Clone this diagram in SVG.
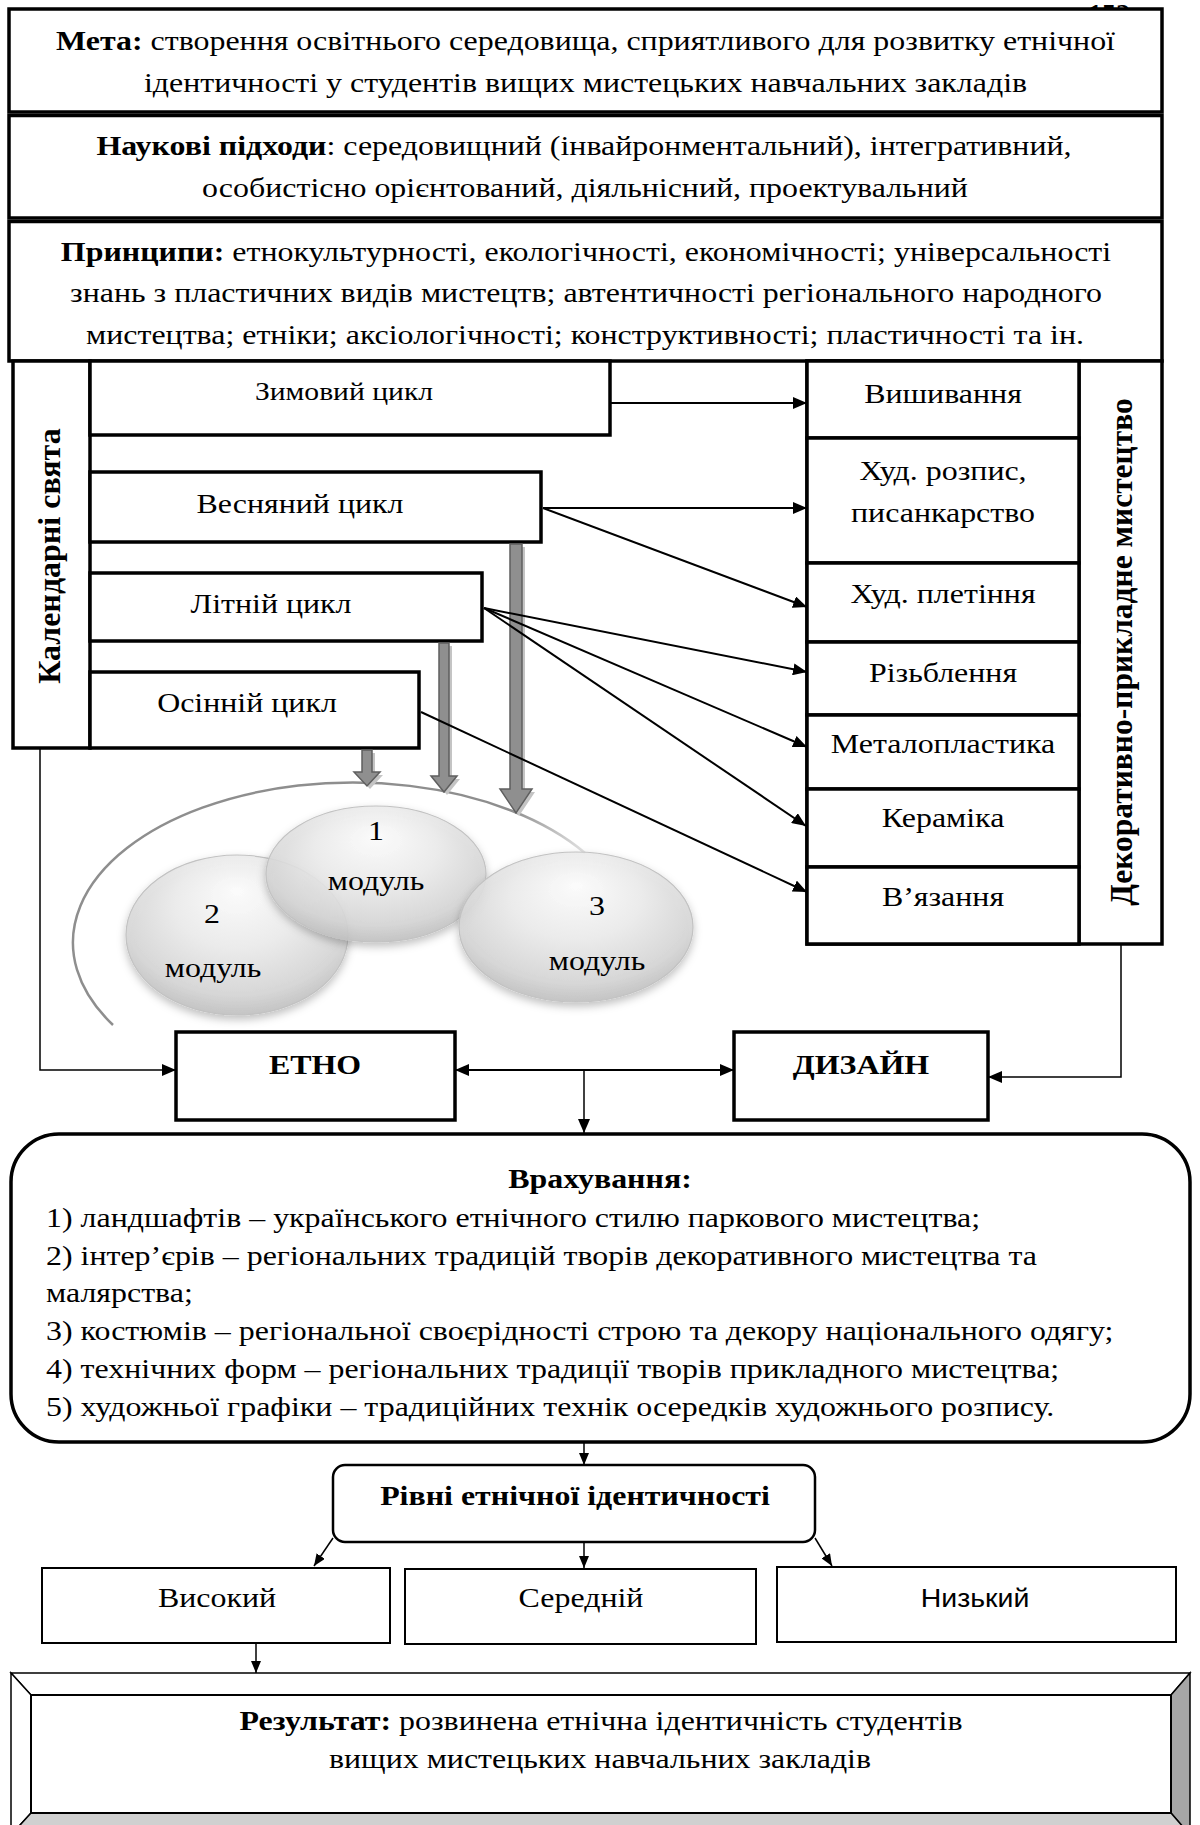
<svg xmlns="http://www.w3.org/2000/svg" width="1200" height="1825" viewBox="0 0 1200 1825">
<style>
.t{font-family:"Liberation Serif","Times New Roman",serif;font-size:28px;fill:#000}
.s{font-size:26px}
.b{font-weight:bold}
.sans{font-family:"Liberation Sans",Arial,sans-serif;font-size:25px;fill:#000}
.box{fill:#fff;stroke:#000;stroke-width:3.5}
.thin{fill:#fff;stroke:#000;stroke-width:2}
.c{fill:none;stroke:#000;stroke-width:2}
.g{fill:#8f8f8f;stroke:#5f5f5f;stroke-width:1.5}
.gs{fill:#c4c4c4}
.sph{fill:url(#sph);stroke:#c2c2c2;stroke-width:1.2;fill-opacity:0.88;filter:url(#shd)}
</style>
<defs>
<marker id="ah" viewBox="0 0 14 12" refX="14" refY="6" markerWidth="14" markerHeight="12" orient="auto-start-reverse" markerUnits="userSpaceOnUse"><path d="M0,0L14,6L0,12z" fill="#000"/></marker>
<marker id="ahs" viewBox="0 0 12 10" refX="12" refY="5" markerWidth="12" markerHeight="10" orient="auto-start-reverse" markerUnits="userSpaceOnUse"><path d="M0,0L12,5L0,10z" fill="#000"/></marker>
<radialGradient id="sph" cx="50%" cy="40%" r="62%" fx="50%" fy="22%">
<stop offset="0" stop-color="#ffffff"/>
<stop offset="0.45" stop-color="#ededed"/>
<stop offset="0.82" stop-color="#d6d6d6"/>
<stop offset="1" stop-color="#bdbdbd"/>
</radialGradient>
<linearGradient id="arcg" gradientUnits="userSpaceOnUse" x1="70" y1="0" x2="590" y2="0">
<stop offset="0" stop-color="#8e8e8e"/>
<stop offset="0.85" stop-color="#8e8e8e"/>
<stop offset="1" stop-color="#8e8e8e" stop-opacity="0.2"/>
</linearGradient>
<filter id="shd" x="-20%" y="-20%" width="140%" height="150%"><feDropShadow dx="0" dy="4" stdDeviation="4" flood-color="#000" flood-opacity="0.28"/></filter>
</defs>
<rect width="1200" height="1825" fill="#fff"/>

<text class="t b" x="1088" y="23">152</text>

<g id="meta">
<rect class="box" x="9" y="9" width="1153" height="103"/>
<text class="t" transform="translate(585.5 50) scale(1.14 1)" text-anchor="middle"><tspan class="b">Мета:</tspan> створення освітнього середовища, сприятливого для розвитку етнічної</text>
<text class="t" transform="translate(585.5 92) scale(1.14 1)" text-anchor="middle">ідентичності у студентів вищих мистецьких навчальних закладів</text>
</g>
<g id="pidkhody">
<rect class="box" x="9" y="115.5" width="1153" height="102.5"/>
<text class="t" transform="translate(584 155) scale(1.14 1)" text-anchor="middle"><tspan class="b">Наукові підходи</tspan>: середовищний (інвайронментальний), інтегративний,</text>
<text class="t" transform="translate(585 197) scale(1.14 1)" text-anchor="middle">особистісно орієнтований, діяльнісний, проектувальний</text>
</g>
<g id="pryntsypy">
<rect class="box" x="9" y="221.5" width="1153" height="139.5"/>
<text class="t" transform="translate(586 261) scale(1.14 1)" text-anchor="middle"><tspan class="b">Принципи:</tspan> етнокультурності, екологічності, економічності; універсальності</text>
<text class="t" transform="translate(586 302) scale(1.14 1)" text-anchor="middle">знань з пластичних видів мистецтв; автентичності регіонального народного</text>
<text class="t" transform="translate(585 344) scale(1.14 1)" text-anchor="middle">мистецтва; етніки; аксіологічності; конструктивності; пластичності та ін.</text>
</g>

<g id="kalendarni">
<rect class="box" x="13" y="361" width="77" height="387"/>
<text class="t b" style="font-size:32px" transform="translate(60 556) rotate(-90)" text-anchor="middle">Календарні свята</text>
</g>
<g id="zymovyi">
<rect class="box" x="90" y="361" width="520" height="74"/>
<text class="t s" transform="translate(344 400) scale(1.14 1)" text-anchor="middle">Зимовий цикл</text>
</g>
<g id="vesnianyi">
<rect class="box" x="90" y="472" width="451" height="70"/>
<text class="t" transform="translate(300 513) scale(1.14 1)" text-anchor="middle">Весняний цикл</text>
</g>
<g id="litnii">
<rect class="box" x="90" y="573" width="392" height="68"/>
<text class="t" transform="translate(271 613) scale(1.14 1)" text-anchor="middle">Літній цикл</text>
</g>
<g id="osinnii">
<rect class="box" x="90" y="672" width="329" height="76"/>
<text class="t" transform="translate(247 712) scale(1.14 1)" text-anchor="middle">Осінній цикл</text>
</g>

<g id="dekor">
<rect class="box" x="807" y="361" width="355" height="583"/>
<line x1="1079" y1="361" x2="1079" y2="944" stroke="#000" stroke-width="3.5"/>
<text class="t b" style="font-size:31.5px" transform="translate(1132 652) rotate(-90)" text-anchor="middle">Декоративно-прикладне мистецтво</text>
</g>
<g id="vyshyvannia">
<rect class="box" x="807" y="361" width="272" height="77"/>
<text class="t" transform="translate(943 403) scale(1.14 1)" text-anchor="middle">Вишивання</text>
</g>
<g id="rozpys">
<rect class="box" x="807" y="438" width="272" height="125"/>
<text class="t" transform="translate(943 480) scale(1.14 1)" text-anchor="middle">Худ. розпис,</text>
<text class="t" transform="translate(943 522) scale(1.14 1)" text-anchor="middle">писанкарство</text>
</g>
<g id="pletinnia">
<rect class="box" x="807" y="563" width="272" height="79"/>
<text class="t" transform="translate(943 603) scale(1.14 1)" text-anchor="middle">Худ. плетіння</text>
</g>
<g id="rizblennia">
<rect class="box" x="807" y="642" width="272" height="73"/>
<text class="t" transform="translate(943 682) scale(1.14 1)" text-anchor="middle">Різьблення</text>
</g>
<g id="metaloplastyka">
<rect class="box" x="807" y="715" width="272" height="74"/>
<text class="t" transform="translate(943 753) scale(1.14 1)" text-anchor="middle">Металопластика</text>
</g>
<g id="keramika">
<rect class="box" x="807" y="789" width="272" height="78"/>
<text class="t" transform="translate(943 827) scale(1.14 1)" text-anchor="middle">Кераміка</text>
</g>
<g id="viazannia">
<rect class="box" x="807" y="867" width="272" height="77"/>
<text class="t" transform="translate(943 906) scale(1.14 1)" text-anchor="middle">В’язання</text>
</g>

<g id="moduli">
<path d="M113,1025 A280,160 0 0 1 585,853" fill="none" stroke="url(#arcg)" stroke-width="2.5"/>
<ellipse class="sph" cx="237" cy="935" rx="111" ry="80"/>
<ellipse class="sph" cx="376" cy="874" rx="110" ry="68"/>
<ellipse class="sph" cx="576" cy="927" rx="117" ry="75"/>
<text class="t" transform="translate(376 840) scale(1.14 1)" text-anchor="middle">1</text>
<text class="t" transform="translate(376 890) scale(1.14 1)" text-anchor="middle">модуль</text>
<text class="t" transform="translate(212 923) scale(1.14 1)" text-anchor="middle">2</text>
<text class="t" transform="translate(213 977) scale(1.14 1)" text-anchor="middle">модуль</text>
<text class="t" transform="translate(597 915) scale(1.14 1)" text-anchor="middle">3</text>
<text class="t" transform="translate(597 970) scale(1.14 1)" text-anchor="middle">модуль</text>
</g>

<g id="etno">
<rect class="box" x="176" y="1032" width="279" height="88"/>
<text class="t b" transform="translate(315 1074) scale(1.14 1)" text-anchor="middle">ЕТНО</text>
</g>
<g id="dyzain">
<rect class="box" x="734" y="1032" width="254" height="88"/>
<text class="t b" transform="translate(861 1074) scale(1.14 1)" text-anchor="middle">ДИЗАЙН</text>
</g>

<g id="vrakhuvannia">
<rect class="box" x="11" y="1134" width="1179" height="308" rx="48" ry="48"/>
<text class="t b" transform="translate(600 1188) scale(1.14 1)" text-anchor="middle">Врахування:</text>
<text class="t" transform="translate(46 1227) scale(1.14 1)">1) ландшафтів – українського етнічного стилю паркового мистецтва;</text>
<text class="t" transform="translate(46 1265) scale(1.14 1)">2) інтер’єрів – регіональних традицій творів декоративного мистецтва та</text>
<text class="t" transform="translate(46 1302) scale(1.14 1)">малярства;</text>
<text class="t" transform="translate(46 1340) scale(1.14 1)">3) костюмів – регіональної своєрідності строю та декору національного одягу;</text>
<text class="t" transform="translate(46 1378) scale(1.14 1)">4) технічних форм – регіональних традиції творів прикладного мистецтва;</text>
<text class="t" transform="translate(46 1416) scale(1.14 1)">5) художньої графіки – традиційних технік осередків художнього розпису.</text>
</g>

<g id="rivni">
<rect x="333" y="1465" width="482" height="77" rx="12" ry="12" fill="#fff" stroke="#000" stroke-width="2.5"/>
<text class="t b" transform="translate(575 1505) scale(1.14 1)" text-anchor="middle">Рівні етнічної ідентичності</text>
</g>
<g id="vysokyi">
<rect class="thin" x="42" y="1568" width="348" height="75"/>
<text class="t" transform="translate(217 1607) scale(1.14 1)" text-anchor="middle">Високий</text>
</g>
<g id="serednii">
<rect class="thin" x="405" y="1569" width="351" height="75"/>
<text class="t" transform="translate(581 1607) scale(1.14 1)" text-anchor="middle">Середній</text>
</g>
<g id="nyzkyi">
<rect class="thin" x="777" y="1567" width="399" height="75"/>
<text class="sans" transform="translate(975 1607) scale(1.14 1)" text-anchor="middle">Низький</text>
</g>

<g id="rezultat">
<polygon points="11,1673 1190,1673 1171,1695 31,1695" fill="#fff" stroke="#000" stroke-width="1.5"/>
<polygon points="11,1673 31,1695 31,1813 11,1835" fill="#fff" stroke="#000" stroke-width="1.5"/>
<polygon points="1190,1673 1171,1695 1171,1813 1190,1835" fill="#a6a6a6" stroke="#000" stroke-width="1.5"/>
<polygon points="31,1813 1171,1813 1190,1835 11,1835" fill="#d0d0d0" stroke="#000" stroke-width="1.5"/>
<rect x="31" y="1695" width="1140" height="118" fill="#fff" stroke="#000" stroke-width="2"/>
<text class="t" transform="translate(601 1730) scale(1.14 1)" text-anchor="middle"><tspan class="b">Результат:</tspan> розвинена етнічна ідентичність студентів</text>
<text class="t" transform="translate(600 1768) scale(1.14 1)" text-anchor="middle">вищих мистецьких навчальних закладів</text>
</g>

<g id="connectors">
<polygon class="gs" transform="translate(3 3)" points="362,750 372,750 372,772 380,772 367,786 354,772 362,772"/>
<polygon class="gs" transform="translate(3 3)" points="439,643 449,643 449,776 457,776 444,792 431,776 439,776"/>
<polygon class="gs" transform="translate(3 3)" points="510,544 522,544 522,789 532,789 516,813 500,789 510,789"/>
<polygon class="g" points="362,750 372,750 372,772 380,772 367,786 354,772 362,772"/>
<polygon class="g" points="439,643 449,643 449,776 457,776 444,792 431,776 439,776"/>
<polygon class="g" points="510,544 522,544 522,789 532,789 516,813 500,789 510,789"/>
<line class="c" x1="610" y1="403" x2="807" y2="403" marker-end="url(#ah)"/>
<line class="c" x1="543" y1="508" x2="807" y2="508" marker-end="url(#ah)"/>
<line class="c" x1="543" y1="508" x2="807" y2="607" marker-end="url(#ah)"/>
<line class="c" x1="484" y1="608" x2="807" y2="672" marker-end="url(#ah)"/>
<line class="c" x1="484" y1="608" x2="807" y2="747" marker-end="url(#ah)"/>
<line class="c" x1="484" y1="608" x2="806" y2="826" marker-end="url(#ah)"/>
<line class="c" x1="421" y1="712" x2="807" y2="892" marker-end="url(#ah)"/>
<polyline class="c" style="stroke-width:1.5" points="40,748 40,1070 176,1070" marker-end="url(#ah)"/>
<line class="c" x1="455" y1="1070" x2="734" y2="1070" marker-start="url(#ah)" marker-end="url(#ah)"/>
<line class="c" style="stroke-width:1.5" x1="584" y1="1070" x2="584" y2="1133" marker-end="url(#ah)"/>
<polyline class="c" style="stroke-width:1.5" points="1121,944 1121,1077 988,1077" marker-end="url(#ah)"/>
<line class="c" style="stroke-width:1.5" x1="584" y1="1442" x2="584" y2="1465" marker-end="url(#ahs)"/>
<line class="c" style="stroke-width:1.5" x1="333" y1="1538" x2="314" y2="1566" marker-end="url(#ahs)"/>
<line class="c" style="stroke-width:1.5" x1="584" y1="1542" x2="584" y2="1568" marker-end="url(#ahs)"/>
<line class="c" style="stroke-width:1.5" x1="815" y1="1538" x2="832" y2="1566" marker-end="url(#ahs)"/>
<line class="c" style="stroke-width:1.5" x1="256" y1="1643" x2="256" y2="1673" marker-end="url(#ahs)"/>
</g>
</svg>
